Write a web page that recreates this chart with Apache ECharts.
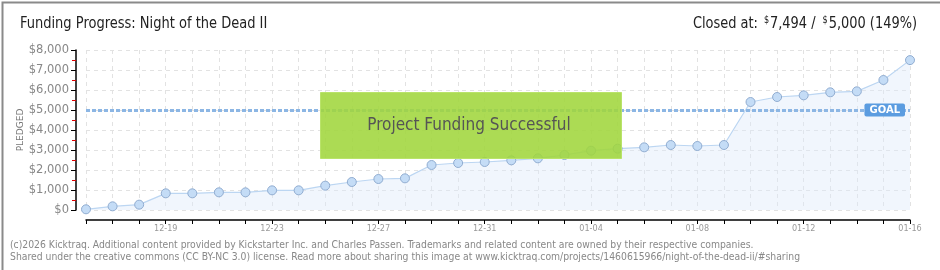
<!DOCTYPE html>
<html><head><meta charset="utf-8">
<script src="https://cdn.jsdelivr.net/npm/echarts@6/dist/echarts.min.js"></script>
<style>
html,body{margin:0;padding:0;background:#fff;}
#c{width:940px;height:270px;}
</style></head>
<body><div id="c"></div>
<script>
const categories = ["12-16","12-17","12-18","12-19","12-20","12-21","12-22","12-23","12-24","12-25","12-26","12-27","12-28","12-29","12-30","12-31","01-01","01-02","01-03","01-04","01-05","01-06","01-07","01-08","01-09","01-10","01-11","01-12","01-13","01-14","01-15","01-16"];
const pledged = [35,183,267,833,833,883,883,983,983,1217,1400,1550,1583,2250,2350,2400,2483,2583,2750,2967,3067,3133,3250,3200,3250,5400,5650,5733,5883,5933,6500,7494];
const goal = 5000;
const yTicks = [0,1000,2000,3000,4000,5000,6000,7000,8000];
const titleText = "Funding Progress: Night of the Dead II";
const closedText = "Closed at:";
const pledgedText = "7,494 / ";
const goalText = "5,000 (149%)";
const footer1 = "(c)2026 Kicktraq. Additional content provided by Kickstarter Inc. and Charles Passen. Trademarks and related content are owned by their respective companies.";
const footer2 = "Shared under the creative commons (CC BY-NC 3.0) license. Read more about sharing this image at www.kicktraq.com/projects/1460615966/night-of-the-dead-ii/#sharing";

const chart = echarts.init(document.getElementById('c'), null, {renderer:'canvas'});
const narrow = "'Liberation Sans Narrow','DejaVu Sans Condensed',sans-serif";
chart.setOption({
  animation:false,
  grid:{left:86,right:30,top:50,bottom:60,containLabel:false},
  xAxis:{
    type:'category', data:categories, boundaryGap:false, offset:10,
    axisLine:{onZero:false,lineStyle:{color:'#000',width:1.5}},
    axisTick:{show:true,interval:0,length:4,lineStyle:{color:'#000'}},
    axisLabel:{interval:(i)=>i%4===3, color:'#999', fontSize:9, fontFamily:narrow, margin:4},
    splitLine:{show:true,interval:0,lineStyle:{color:'#e2e2e2',type:[4,4]}}
  },
  yAxis:{
    type:'value', min:yTicks[0], max:yTicks[yTicks.length-1], interval:1000, offset:10,
    name:'PLEDGED', nameLocation:'middle', nameGap:51, nameRotate:90, nameMoveOverlap:false,
    nameTextStyle:{color:'#777',fontSize:9,fontFamily:'DejaVu Sans',letterSpacing:1},
    axisLine:{show:true,onZero:false,lineStyle:{color:'#000',width:1.5}},
    axisTick:{show:true,length:5,lineStyle:{color:'#000'}},
    minorTick:{show:true,splitNumber:2,length:4,lineStyle:{color:'#e00000'}},
    axisLabel:{color:'#888',fontSize:11.5,fontFamily:'DejaVu Sans',margin:7,
      formatter:(v)=>'$'+v.toLocaleString('en-US')},
    splitLine:{show:true,lineStyle:{color:'#e2e2e2',type:[4,4]}}
  },
  series:[{
    type:'line', data:pledged, symbol:'circle', symbolSize:9,
    itemStyle:{color:'#c4dcf6',borderColor:'#90acd0',borderWidth:1},
    lineStyle:{color:'#bcd6f2',width:1.2},
    areaStyle:{color:'rgba(222,234,250,0.6)'},
    markLine:{
      silent:true, symbol:'none',
      lineStyle:{color:'#8cb6e4',width:3,type:[4,2]},
      label:{show:true,position:'insideEnd',formatter:'GOAL',color:'#fff',
        backgroundColor:'#5b9ce0',padding:[2,5,1,5],borderRadius:2,
        fontSize:10,fontFamily:'DejaVu Sans',fontWeight:'bold',distance:5},
      data:[{yAxis:goal}]
    },
    z:3
  }],
  graphic:[
    {type:'rect',left:0,top:0,shape:{width:939,height:269},style:{fill:'none',stroke:'#8a8a8a',lineWidth:2},silent:true},
    {type:'text',x:20,y:24,scaleX:0.905,style:{text:titleText,fill:'#222',font:"16px "+narrow,verticalAlign:'middle'}},
    {type:'text',x:917,y:24,scaleX:0.9,style:{
      text:'{a|'+closedText+'}  {s|$}{a|'+pledgedText+'} {s|$}{a|'+goalText+'}',
      align:'right',verticalAlign:'middle',
      rich:{a:{fill:'#222',font:"16px "+narrow},s:{fill:'#222',font:"10px "+narrow,verticalAlign:'top',padding:[0,1,8,0]}}}},
    {type:'rect',left:320,top:92,z:10,shape:{width:301,height:66},
      style:{fill:'rgba(160,214,60,0.88)',stroke:'#b9e36a',lineWidth:1}},
    {type:'text',x:469,y:126,z:11,style:{text:'Project Funding Successful',
      fill:'#555',font:"17px "+narrow,align:'center',verticalAlign:'middle',
      textShadowColor:'#eee',textShadowOffsetX:1,textShadowOffsetY:1,textShadowBlur:0}},
    {type:'text',x:10,y:245,style:{text:footer1,fill:'#888',font:"10.3px 'DejaVu Sans Condensed',sans-serif",verticalAlign:'middle'}},
    {type:'text',x:10,y:257,style:{text:footer2,fill:'#888',font:"10.3px 'DejaVu Sans Condensed',sans-serif",verticalAlign:'middle'}}
  ]
});
</script></body></html>
